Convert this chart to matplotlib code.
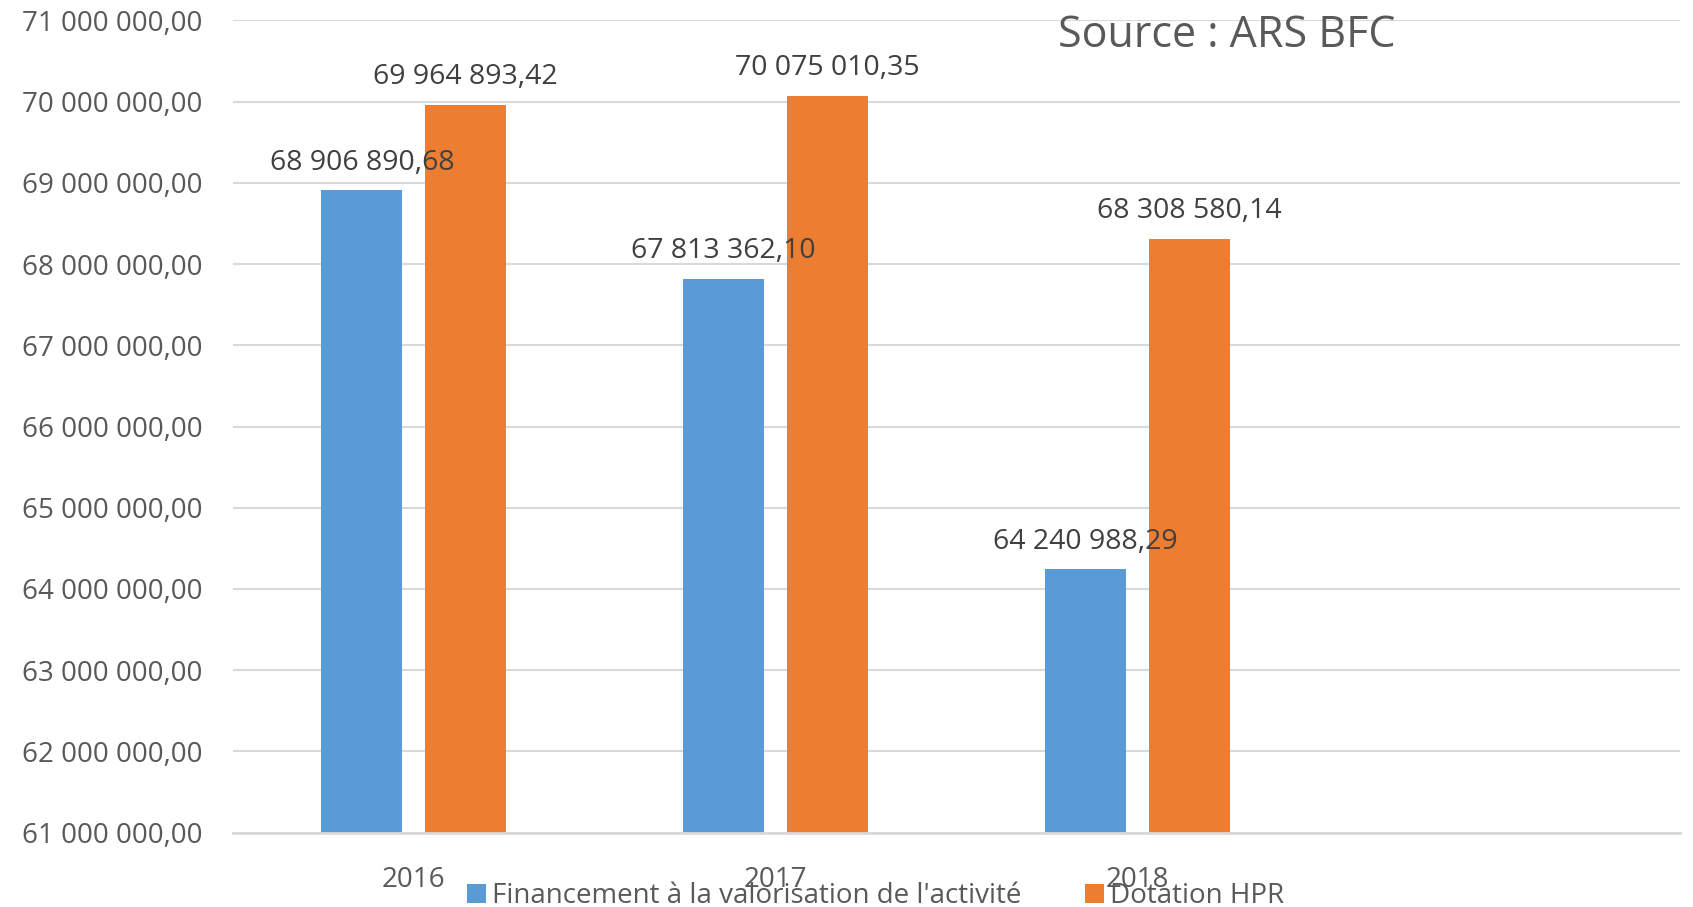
"""Financement à la valorisation de l'activité vs Dotation HPR, 2016-2018."""

import matplotlib

matplotlib.use("Agg")
import matplotlib.pyplot as plt
from matplotlib.ticker import FuncFormatter
import numpy as np

years = ["2016", "2017", "2018"]
financement = [68906890.68, 67813362.10, 64240988.29]
dotation = [69964893.42, 70075010.35, 68308580.14]
series_names = ["Financement à la valorisation de l'activité", "Dotation HPR"]

BLUE = "#5B9BD5"
ORANGE = "#ED7D31"
TEXT = "#595959"
LABEL = "#404040"

plt.rcParams["font.family"] = ["Open Sans", "DejaVu Sans"]


def fr_number(v):
    s = f"{v:,.2f}"
    return s.replace(",", " ").replace(".", ",")


fig = plt.figure(figsize=(16.93, 9.07), dpi=100)
ax = fig.add_axes([0.1376, 0.0821, 0.8547, 0.8953])

x = np.arange(len(years)) + 0.5
w = 0.224
off = 0.1435
b1 = ax.bar(x - off, financement, w, color=BLUE, label=series_names[0], zorder=2)
b2 = ax.bar(x + off, dotation, w, color=ORANGE, label=series_names[1], zorder=2)

for bars, vals in ((b1, financement), (b2, dotation)):
    for bar, v in zip(bars, vals):
        ax.text(bar.get_x() + bar.get_width() / 2, v + 170000, fr_number(v),
                ha="center", va="bottom", fontsize=20.5, color=LABEL, zorder=3)

ax.set_xlim(0, 4)
ax.set_ylim(61e6, 71e6)
ax.set_yticks(np.arange(61e6, 71e6 + 1, 1e6))
ax.yaxis.set_major_formatter(FuncFormatter(lambda v, _: fr_number(v)))
ax.set_xticks(x)
ax.set_xticklabels(years)
ax.tick_params(axis="y", length=0, pad=22, labelsize=20, labelcolor=TEXT)
ax.tick_params(axis="x", length=0, pad=24, labelsize=20, labelcolor=TEXT)

ax.grid(True, axis="y", color="#D9D9D9", linewidth=1.5, zorder=0)
ax.set_axisbelow(True)
for side in ("top", "right", "left"):
    ax.spines[side].set_visible(False)
ax.spines["bottom"].set_color("#D9D9D9")
ax.spines["bottom"].set_linewidth(2)
ax.spines["bottom"].set_zorder(3)

ax.text(1227 / 1693, 1 - 36 / 907, "Source : ARS BFC", transform=fig.transFigure,
        ha="center", va="center", fontsize=31, color=TEXT)

fig.legend(handles=[b1, b2], loc="center", bbox_to_anchor=(0.517, 0.012),
           ncol=2, frameon=False, fontsize=20, labelcolor=TEXT,
           handlelength=0.7, handleheight=0.7, handletextpad=0.2,
           columnspacing=2.3)

fig.savefig("out.png", dpi=100)
